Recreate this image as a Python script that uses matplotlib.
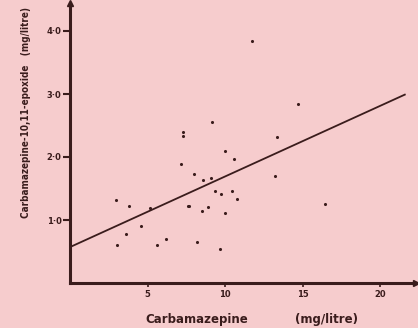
import matplotlib
matplotlib.use("Agg")
import matplotlib.pyplot as plt

# Data
cbz = [11.72, 14.73, 9.14, 7.31, 7.27, 13.35, 10.0, 10.58, 7.16, 8.0,
       13.23, 8.56, 9.12, 9.35, 9.72, 10.45, 10.75, 2.95, 3.81, 5.16,
       7.59, 7.70, 8.54, 8.90, 9.98, 16.47, 4.56, 3.59, 3.03, 5.63,
       6.19, 8.19, 9.70]
epox = [3.84, 2.84, 2.56, 2.39, 2.33, 2.31, 2.09, 1.97, 1.89, 1.73,
        1.70, 1.63, 1.66, 1.46, 1.41, 1.46, 1.34, 1.32, 1.23, 1.19,
        1.23, 1.23, 1.14, 1.20, 1.11, 1.25, 0.90, 0.77, 0.60, 0.61,
        0.70, 0.65, 0.54]
line_x = [0.0, 21.6]
line_y = [0.57, 2.99]
xticks = [5, 10, 15, 20]
xtick_labels = ["5", "10", "15", "20"]
yticks = [1, 2, 3, 4]
ytick_labels = ["1·0", "2·0", "3·0", "4·0"]

bg = "#f6cccd"
ink = "#3a1c1c"

W, H = 418, 328
fig = plt.figure(figsize=(W / 100, H / 100), dpi=100, facecolor=bg)
x0, y0 = 70, 283
xmax, ymax = 22.3, 4.45
pxu_x, pxu_y = 15.5, 63.0
ax = fig.add_axes([x0 / W, (H - y0) / H, xmax * pxu_x / W, ymax * pxu_y / H])
ax.set_facecolor(bg)
ax.set_xlim(0, xmax)
ax.set_ylim(0, ymax)

ax.scatter(cbz, epox, s=5, color=ink, zorder=3, linewidths=0)
ax.plot(line_x, line_y, color=ink, lw=1.3)

for s in ["top", "right"]:
    ax.spines[s].set_visible(False)
for s in ["left", "bottom"]:
    ax.spines[s].set_color(ink)
    ax.spines[s].set_linewidth(2.2)

ax.plot(1, 0, marker=">", color=ink, ms=4, transform=ax.transAxes, clip_on=False)
ax.plot(0, 1, marker="^", color=ink, ms=4, transform=ax.transAxes, clip_on=False)

ax.set_xticks(xticks)
ax.set_xticklabels(xtick_labels, fontsize=6, fontweight="bold", color=ink)
ax.set_yticks(yticks)
ax.set_yticklabels(ytick_labels, fontsize=6, fontweight="bold", color=ink)
ax.tick_params(axis="x", length=3, width=1.2, color=ink, pad=2)
ax.tick_params(axis="y", length=5, width=1.5, color=ink, pad=1)

fig.text(197 / W, 1 - 320 / H, "Carbamazepine", fontsize=8.5, fontweight="bold",
         color=ink, ha="center", va="center")
fig.text(327 / W, 1 - 320 / H, "(mg/litre)", fontsize=8.5, fontweight="bold",
         color=ink, ha="center", va="center")
fig.text(26 / W, 1 - 112 / H, "Carbamazepine-10,11-epoxide   (mg/litre)",
         fontsize=7.1, color=ink, rotation=90, ha="center", va="center",
         family="DejaVu Sans", fontstretch="condensed", fontweight="bold")

fig.savefig("out.png", dpi=100, facecolor=bg)
